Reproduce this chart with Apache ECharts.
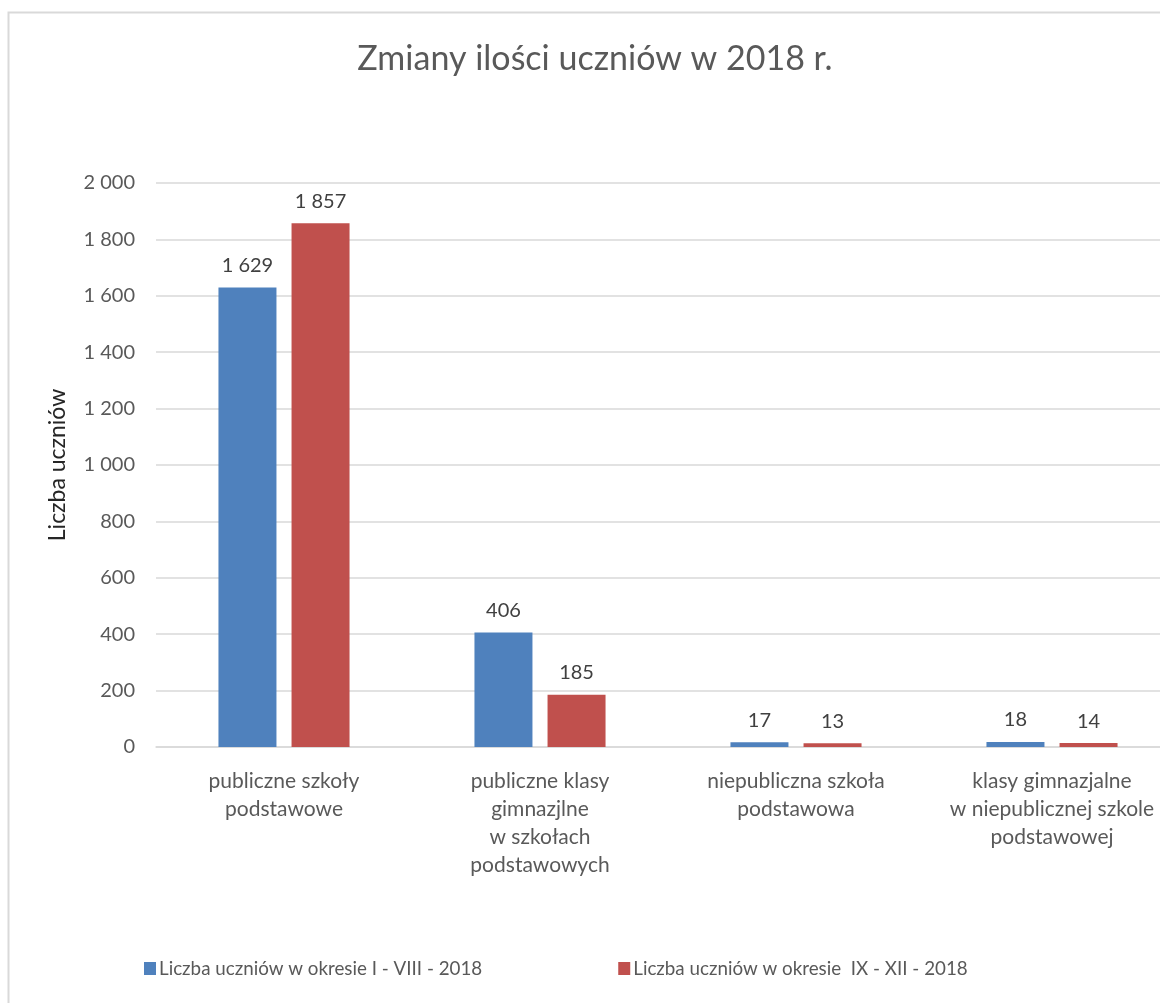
<!DOCTYPE html>
<html><head><meta charset="utf-8">
<script src="https://cdn.jsdelivr.net/npm/echarts@6/dist/echarts.min.js"></script>
<style>html,body{margin:0;padding:0;background:#fff}#c{width:1160px;height:1003px}</style>
</head><body><div id="c"></div>
<script>
const categories = ['publiczne szkoły\npodstawowe', 'publiczne klasy\ngimnazjlne\nw szkołach\npodstawowych', 'niepubliczna szkoła\npodstawowa', 'klasy gimnazjalne\nw niepublicznej szkole\npodstawowej'];
const seriesNames = ['Liczba uczniów w okresie I - VIII - 2018', 'Liczba uczniów w okresie  IX - XII - 2018'];
const valuesA = [1629, 406, 17, 18];
const valuesB = [1857, 185, 13, 14];
const fmt = v => String(v).replace(/\B(?=(\d{3})+(?!\d))/g, ' ');
const FONT = 'Lato';
const chart = echarts.init(document.getElementById('c'));
chart.setOption({
  animation: false,
  textStyle: {fontFamily: FONT},
  title: {text: 'Zmiany ilości uczniów w 2018 r.', left: 590, top: 37, textAlign: 'center',
    textStyle: {fontFamily: FONT, fontSize: 34, fontWeight: 'normal', color: '#595959'}},
  graphic: [{type: 'rect', shape: {x: 8.5, y: 12.5, width: 1200, height: 1100},
    style: {fill: 'none', stroke: '#d9d9d9', lineWidth: 2}, silent: true, z: -10}],
  grid: {left: 156, right: -20, top: 183, height: 564, containLabel: false, outerBoundsMode: 'none'},
  legend: {bottom: 20, left: 139, itemWidth: 12, itemHeight: 13, itemGap: 136,
    icon: 'rect', textStyle: {fontFamily: FONT, fontSize: 18.8, color: '#595959', padding: [0,0,0,-2]},
    data: seriesNames},
  xAxis: {type: 'category', data: categories,
    axisLine: {lineStyle: {color: '#d9d9d9', width: 1.5}}, axisTick: {show: false},
    axisLabel: {fontFamily: FONT, fontSize: 21, color: '#595959', lineHeight: 28, margin: 20, interval: 0}},
  yAxis: {type: 'value', min: 0, max: 2000, interval: 200,
    name: 'Liczba uczniów', nameLocation: 'middle', nameGap: 87, nameRotate: 90,
    nameTextStyle: {fontFamily: FONT, fontSize: 23, color: '#262626'},
    axisLine: {show: false}, axisTick: {show: false},
    splitLine: {lineStyle: {color: '#d9d9d9', width: 1.5}},
    axisLabel: {fontFamily: FONT, fontSize: 20, color: '#595959', margin: 21, formatter: v => fmt(v)}},
  series: [
    {name: seriesNames[0], type: 'bar', data: valuesA, barWidth: 58, barGap: '26%',
     itemStyle: {color: '#4f81bd'},
     label: {show: true, position: 'top', distance: 12, fontFamily: FONT, fontSize: 20, color: '#404040', formatter: p => fmt(p.value)}},
    {name: seriesNames[1], type: 'bar', data: valuesB, barWidth: 58, barGap: '26%',
     itemStyle: {color: '#c0504d'},
     label: {show: true, position: 'top', distance: 12, fontFamily: FONT, fontSize: 20, color: '#404040', formatter: p => fmt(p.value)}}
  ]
});
</script></body></html>
